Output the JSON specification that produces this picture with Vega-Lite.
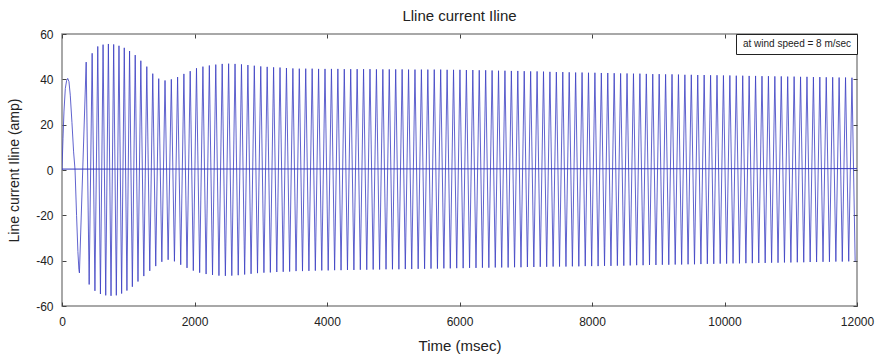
{
"$schema":"https://vega.github.io/schema/vega-lite/v6.json",
"width":795,"height":272,
"autosize":{"type":"none"},
"padding":{"left":62,"top":34,"right":18,"bottom":55},
"background":"white",
"title":{"text":"Lline current Iline","fontSize":15,"fontWeight":"normal","font":"Liberation Sans","color":"#222222","offset":4,"anchor":"middle"},
"datasets":{
"signal":[
{"t":0,"v":0},{"t":15,"v":14},{"t":30,"v":26},{"t":50,"v":36},{"t":70,"v":39.5},{"t":86,"v":40.4},{"t":105,"v":39},{"t":125,"v":33},{"t":150,"v":21},{"t":175,"v":8},{"t":197,"v":0},{"t":220,"v":-20},{"t":240,"v":-36},{"t":255,"v":-44},{"t":263,"v":-45.4},
{"t":365,"v":47.6},{"t":410,"v":-50.5},{"t":455,"v":51.5},{"t":497,"v":-53.3},{"t":540,"v":54.5},{"t":580,"v":-54.7},{"t":620,"v":55.3},{"t":660,"v":-55.3},{"t":700,"v":55.6},{"t":740,"v":-55.5},{"t":780,"v":55.4},{"t":820,"v":-55.3},{"t":860,"v":54.8},{"t":900,"v":-54.5},{"t":940,"v":53.9},{"t":980,"v":-53.2},{"t":1020,"v":52.5},{"t":1062,"v":-51.5},{"t":1105,"v":50.7},{"t":1147,"v":-49.2},{"t":1190,"v":48.2},{"t":1235,"v":-46.8},{"t":1280,"v":45.6},{"t":1325,"v":-44.5},{"t":1370,"v":42.5},{"t":1415,"v":-42.4},{"t":1460,"v":40.3},{"t":1507,"v":-40.5},{"t":1555,"v":39.5},{"t":1602,"v":-39.6},{"t":1650,"v":40.0},{"t":1697,"v":-40.3},{"t":1745,"v":41.0},{"t":1792,"v":-41.8},{"t":1840,"v":42.4},{"t":1887,"v":-43.2},{"t":1935,"v":43.6},{"t":1982,"v":-44.4},
{"t":2030,"v":44.9},{"t":2078,"v":-45.3},{"t":2127,"v":45.6},{"t":2175,"v":-45.9},{"t":2224,"v":46.1},{"t":2272,"v":-46.3},{"t":2321,"v":46.5},{"t":2369,"v":-46.6},{"t":2418,"v":46.8},{"t":2466,"v":-46.7},
{"t":2515,"v":46.9},{"t":2563,"v":-46.6},{"t":2612,"v":46.8},{"t":2660,"v":-46.4},{"t":2709,"v":46.6},{"t":2757,"v":-46.1},{"t":2806,"v":46.3},{"t":2854,"v":-45.8},{"t":2903,"v":46.0},{"t":2951,"v":-45.5},
{"t":3000,"v":45.7},{"t":3048,"v":-45.3},{"t":3097,"v":45.5},{"t":3145,"v":-45.2},{"t":3194,"v":45.3},{"t":3242,"v":-45.0},{"t":3291,"v":45.2},{"t":3339,"v":-44.9},{"t":3388,"v":45.0},{"t":3436,"v":-44.8},
{"t":3485,"v":44.8},{"t":3533,"v":-44.6},{"t":3582,"v":44.7},{"t":3630,"v":-44.6},{"t":3679,"v":44.7},{"t":3727,"v":-44.5},{"t":3776,"v":44.7},{"t":3824,"v":-44.4},{"t":3873,"v":44.6},{"t":3921,"v":-44.3},
{"t":3970,"v":44.6},{"t":4018,"v":-44.3},{"t":4067,"v":44.6},{"t":4115,"v":-44.2},{"t":4164,"v":44.6},{"t":4212,"v":-44.2},{"t":4261,"v":44.5},{"t":4309,"v":-44.1},{"t":4358,"v":44.5},{"t":4406,"v":-44.1},
{"t":4455,"v":44.5},{"t":4503,"v":-44.0},{"t":4552,"v":44.5},{"t":4600,"v":-44.0},{"t":4649,"v":44.5},{"t":4697,"v":-43.9},{"t":4746,"v":44.4},{"t":4794,"v":-43.9},{"t":4843,"v":44.4},{"t":4891,"v":-43.8},
{"t":4940,"v":44.4},{"t":4988,"v":-43.8},{"t":5037,"v":44.4},{"t":5085,"v":-43.8},{"t":5134,"v":44.4},{"t":5182,"v":-43.7},{"t":5231,"v":44.3},{"t":5279,"v":-43.7},{"t":5328,"v":44.3},{"t":5376,"v":-43.6},
{"t":5425,"v":44.3},{"t":5473,"v":-43.6},{"t":5522,"v":44.3},{"t":5570,"v":-43.5},{"t":5619,"v":44.3},{"t":5667,"v":-43.5},{"t":5716,"v":44.3},{"t":5764,"v":-43.4},{"t":5813,"v":44.2},{"t":5861,"v":-43.4},
{"t":5910,"v":44.2},{"t":5958,"v":-43.3},{"t":6007,"v":44.2},{"t":6055,"v":-43.3},{"t":6104,"v":44.1},{"t":6152,"v":-43.2},{"t":6201,"v":44.1},{"t":6249,"v":-43.2},{"t":6298,"v":44.0},{"t":6346,"v":-43.1},
{"t":6395,"v":44.0},{"t":6443,"v":-43.1},{"t":6492,"v":43.9},{"t":6540,"v":-43.0},{"t":6589,"v":43.8},{"t":6637,"v":-43.0},{"t":6686,"v":43.8},{"t":6734,"v":-43.0},{"t":6783,"v":43.7},{"t":6831,"v":-42.9},
{"t":6880,"v":43.7},{"t":6928,"v":-42.9},{"t":6977,"v":43.6},{"t":7025,"v":-42.8},{"t":7074,"v":43.5},{"t":7122,"v":-42.8},{"t":7171,"v":43.5},{"t":7219,"v":-42.7},{"t":7268,"v":43.4},{"t":7316,"v":-42.7},
{"t":7365,"v":43.3},{"t":7413,"v":-42.6},{"t":7462,"v":43.2},{"t":7510,"v":-42.6},{"t":7559,"v":43.2},{"t":7607,"v":-42.6},{"t":7656,"v":43.1},{"t":7704,"v":-42.5},{"t":7753,"v":43.0},{"t":7801,"v":-42.5},
{"t":7850,"v":43.0},{"t":7898,"v":-42.4},{"t":7947,"v":42.9},{"t":7995,"v":-42.4},{"t":8044,"v":42.9},{"t":8092,"v":-42.4},{"t":8141,"v":42.8},{"t":8189,"v":-42.3},{"t":8238,"v":42.8},{"t":8286,"v":-42.3},
{"t":8335,"v":42.7},{"t":8383,"v":-42.2},{"t":8432,"v":42.6},{"t":8480,"v":-42.2},{"t":8529,"v":42.6},{"t":8577,"v":-42.1},{"t":8626,"v":42.5},{"t":8674,"v":-42.0},{"t":8723,"v":42.5},{"t":8771,"v":-42.0},
{"t":8820,"v":42.4},{"t":8868,"v":-41.9},{"t":8917,"v":42.3},{"t":8965,"v":-41.9},{"t":9014,"v":42.3},{"t":9062,"v":-41.8},{"t":9111,"v":42.2},{"t":9159,"v":-41.8},{"t":9208,"v":42.2},{"t":9256,"v":-41.7},
{"t":9305,"v":42.1},{"t":9353,"v":-41.7},{"t":9402,"v":42.0},{"t":9450,"v":-41.6},{"t":9499,"v":42.0},{"t":9547,"v":-41.6},{"t":9596,"v":41.9},{"t":9644,"v":-41.5},{"t":9693,"v":41.9},{"t":9741,"v":-41.4},
{"t":9790,"v":41.8},{"t":9838,"v":-41.4},{"t":9887,"v":41.8},{"t":9935,"v":-41.3},{"t":9984,"v":41.7},{"t":10032,"v":-41.3},{"t":10081,"v":41.7},{"t":10129,"v":-41.2},{"t":10178,"v":41.6},{"t":10226,"v":-41.2},
{"t":10275,"v":41.6},{"t":10323,"v":-41.1},{"t":10372,"v":41.5},{"t":10420,"v":-41.1},{"t":10469,"v":41.5},{"t":10517,"v":-41.0},{"t":10566,"v":41.4},{"t":10614,"v":-41.0},{"t":10663,"v":41.4},{"t":10711,"v":-40.9},
{"t":10760,"v":41.3},{"t":10808,"v":-40.9},{"t":10857,"v":41.3},{"t":10905,"v":-40.8},{"t":10954,"v":41.2},{"t":11002,"v":-40.8},{"t":11051,"v":41.2},{"t":11099,"v":-40.7},{"t":11148,"v":41.1},{"t":11196,"v":-40.7},
{"t":11245,"v":41.1},{"t":11293,"v":-40.6},{"t":11342,"v":41.0},{"t":11390,"v":-40.6},{"t":11439,"v":41.0},{"t":11487,"v":-40.5},{"t":11536,"v":40.9},{"t":11584,"v":-40.5},{"t":11633,"v":40.9},{"t":11681,"v":-40.4},
{"t":11730,"v":40.8},{"t":11778,"v":-40.4},{"t":11827,"v":40.8},{"t":11875,"v":-40.3},{"t":11924,"v":40.7},{"t":11972,"v":-40.3}
],
"offset":[
{"t":0,"v":0.4,"s":"at wind speed = 8 m/sec"},
{"t":12000,"v":0.6,"s":"at wind speed = 8 m/sec"}
]
},
"layer":[
{
"data":{"name":"signal"},
"mark":{"type":"line","color":"#3a3ec2","strokeWidth":0.9,"opacity":0.9,"clip":true},
"encoding":{
"x":{"field":"t","type":"quantitative","scale":{"domain":[0,12000],"nice":false,"zero":false},
"axis":{"orient":"bottom","values":[0,2000,4000,6000,8000,10000,12000],"labelExpr":"'' + datum.value","title":"Time (msec)","titleFontSize":15,"titlePadding":11,"tickSize":-4,"labelPadding":14,"labelFlush":false}},
"y":{"field":"v","type":"quantitative","scale":{"domain":[-60,60],"nice":false},
"axis":{"orient":"left","values":[-60,-40,-20,0,20,40,60],"labelExpr":"'' + datum.value","title":"Line current Iline (amp)","titleFontSize":14,"titlePadding":14,"tickSize":-4,"labelPadding":13}}
}
},
{
"data":{"name":"offset"},
"mark":{"type":"line","strokeWidth":1,"clip":true},
"encoding":{
"x":{"field":"t","type":"quantitative","axis":{"orient":"top","values":[0,2000,4000,6000,8000,10000,12000],"labels":false,"title":null,"tickSize":-4}},
"y":{"field":"v","type":"quantitative","axis":{"orient":"right","values":[-60,-40,-20,0,20,40,60],"labels":false,"title":null,"tickSize":-4}},
"color":{"field":"s","type":"nominal","scale":{"range":["#3034bc"]},
"legend":{"orient":"top-right","offset":0,"title":null,"padding":5,"strokeColor":"#222222","fillColor":"white","labelFontSize":10,"labelFont":"Liberation Sans","labelColor":"#222222","symbolSize":0,"symbolStrokeWidth":0,"symbolOpacity":0,"labelOffset":-8,"labelExpr":"datum.label + '\u00a0\u00a0\u00a0'"}}
}
}
],
"resolve":{"axis":{"x":"independent","y":"independent"}},
"config":{
"view":{"stroke":"#8c8c8c","strokeWidth":1.5},
"font":"Liberation Sans",
"axis":{"domain":false,"grid":false,"tickColor":"#444444","tickWidth":1,"labelFont":"Liberation Sans","labelFontSize":12,"labelColor":"#222222","titleFont":"Liberation Sans","titleFontWeight":"normal","titleColor":"#222222"}
}
}
